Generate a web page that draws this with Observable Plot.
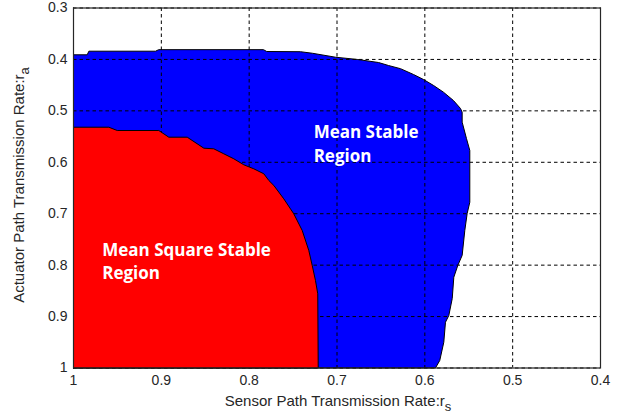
<!DOCTYPE html>
<html>
<head>
<meta charset="utf-8">
<script src="https://cdn.jsdelivr.net/npm/d3@7"></script>
<script src="https://cdn.jsdelivr.net/npm/@observablehq/plot@0.6"></script>
<style>
  html, body { margin: 0; padding: 0; background: #fff; }
  #chart { width: 622px; height: 416px; }
</style>
</head>
<body>
<div id="chart"></div>
<script>
// Tick values
const xTicks = [1, 0.9, 0.8, 0.7, 0.6, 0.5, 0.4];
const yTicks = [0.3, 0.4, 0.5, 0.6, 0.7, 0.8, 0.9, 1];

// Mean stable region boundary (r_s, r_a)
const blueX = [1, 1, 0.9844, 0.9825, 0.9066, 0.903, 0.7837, 0.780, 0.7416, 0.728, 0.7017, 0.677, 0.6527, 0.6414, 0.6277, 0.6129, 0.6015, 0.590, 0.5788, 0.5674, 0.5594, 0.5575, 0.5575, 0.5526, 0.5488, 0.5488, 0.5518, 0.5545, 0.5575, 0.5625, 0.5670, 0.5688, 0.5727, 0.5765, 0.5784, 0.583, 0.5879, 1];
const blueY = [1, 0.391, 0.391, 0.384, 0.384, 0.381, 0.381, 0.3846, 0.385, 0.388, 0.3957, 0.400, 0.406, 0.4118, 0.418, 0.4293, 0.439, 0.4507, 0.4637, 0.4799, 0.4954, 0.5026, 0.522, 0.5537, 0.577, 0.6776, 0.6996, 0.7326, 0.781, 0.8007, 0.8234, 0.8649, 0.898, 0.911, 0.9498, 0.9854, 1, 1];

// Mean square stable region boundary (r_s, r_a)
const redX = [1, 1, 0.9598, 0.9502, 0.9029, 0.8915, 0.8705, 0.8516, 0.8403, 0.8289, 0.8175, 0.8061, 0.7947, 0.7833, 0.7776, 0.7719, 0.7606, 0.7492, 0.7396, 0.7321, 0.7282, 0.7245, 0.7219, 0.7214, 1];
const redY = [1, 0.5318, 0.5318, 0.5382, 0.5382, 0.5512, 0.5512, 0.5726, 0.5738, 0.5835, 0.5932, 0.6049, 0.6127, 0.6224, 0.6354, 0.6451, 0.671, 0.7002, 0.7326, 0.7715, 0.8007, 0.8299, 0.8557, 1, 1];

// Region labels
const regionLabels = ["Mean Stable\nRegion", "Mean Square Stable\nRegion"];
const labelX = [0.7266, 0.9673];
const labelY = [0.5615, 0.7896];

const blue = blueX.map((x, i) => ({x, y: blueY[i]}));
const red = redX.map((x, i) => ({x, y: redY[i]}));
const labels = regionLabels.map((t, i) => ({t, x: labelX[i], y: labelY[i]}));

const axisFont = "'Liberation Sans', Arial, sans-serif";

const chart = Plot.plot({
  width: 622,
  height: 416,
  marginLeft: 73,
  marginRight: 22,
  marginTop: 7.5,
  marginBottom: 48.5,
  style: {fontFamily: axisFont, background: "#fff", color: "#262626"},
  x: {domain: [1, 0.4], label: null},
  y: {domain: [0.3, 1], reverse: true, label: null},
  marks: [
    Plot.line(blue, {x: "x", y: "y", fill: "#0000ff", stroke: "#000", strokeWidth: 1}),
    Plot.gridX(xTicks, {stroke: "#000", strokeOpacity: 1, strokeWidth: 1, strokeDasharray: "3.5,3"}),
    Plot.gridY(yTicks, {stroke: "#000", strokeOpacity: 1, strokeWidth: 1, strokeDasharray: "3.5,3"}),
    Plot.line(red, {x: "x", y: "y", fill: "#ff0000", stroke: "#000", strokeWidth: 1}),
    Plot.frame({stroke: "#262626", strokeWidth: 1.2}),
    Plot.axisX(xTicks, {tickSize: 0, tickPadding: 7, fontSize: 14, tickFormat: d => String(d), label: null}),
    Plot.axisY(yTicks, {tickSize: 0, tickPadding: 6, fontSize: 14, tickFormat: d => String(d), label: null}),
    Plot.text(labels, {x: "x", y: "y", text: "t", textAnchor: "start", lineAnchor: "middle", lineHeight: 1.38,
      fill: "#fff", fontSize: 17, fontWeight: "bold", fontFamily: "'Open Sans', 'Noto Sans', sans-serif"})
  ]
});

document.getElementById("chart").appendChild(chart);

const svg = d3.select(chart);
// x-axis label with subscript
const xl = svg.append("text")
  .attr("x", 338).attr("y", 406)
  .attr("text-anchor", "middle")
  .attr("font-family", axisFont).attr("font-size", 15).attr("fill", "#262626");
xl.append("tspan").text("Sensor Path Transmission Rate:r");
xl.append("tspan").attr("font-size", 13).attr("dy", 5).text("s");

// y-axis label with subscript
const yl = svg.append("text")
  .attr("transform", "translate(23.5,185) rotate(-90)")
  .attr("text-anchor", "middle")
  .attr("font-family", axisFont).attr("font-size", 15).attr("fill", "#262626");
yl.append("tspan").text("Actuator Path Transmission Rate:r");
yl.append("tspan").attr("font-size", 13).attr("dy", 5).text("a");
</script>
</body>
</html>
